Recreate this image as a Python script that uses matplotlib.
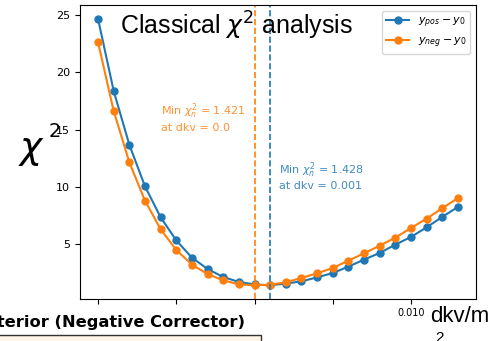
import numpy as np
import matplotlib
matplotlib.use("Agg")
import matplotlib.pyplot as plt
from matplotlib.patches import Rectangle

# Scan of the velocity correction dkv
dkv = [-0.010, -0.009, -0.008, -0.007, -0.006, -0.005, -0.004, -0.003,
       -0.002, -0.001, 0.000, 0.001, 0.002, 0.003, 0.004, 0.005,
       0.006, 0.007, 0.008, 0.009, 0.010, 0.011, 0.012, 0.013]

# Reduced chi-square for each corrector
chi2_pos = [24.7, 18.4, 13.7, 10.07, 7.36, 5.35, 3.84, 2.85,
            2.15, 1.72, 1.50, 1.428, 1.58, 1.77, 2.12, 2.50,
            3.06, 3.67, 4.25, 4.98, 5.65, 6.49, 7.40, 8.27]
chi2_neg = [22.65, 16.65, 12.17, 8.82, 6.32, 4.51, 3.23, 2.41,
            1.86, 1.51, 1.421, 1.48, 1.69, 2.07, 2.47, 2.94,
            3.58, 4.22, 4.89, 5.59, 6.43, 7.25, 8.15, 9.05]

min_pos_x, min_pos_val = 0.001, 1.428
min_neg_x, min_neg_val = 0.0, 1.421

xticks = [-0.010, -0.005, 0.000, 0.005, 0.010]
xticklabels = ["", "", "", "", "0.010"]

W, H = 504, 341
fig = plt.figure(figsize=(W / 100, H / 100), dpi=100)
ax = fig.add_axes([80 / W, 1 - 298.7 / H, (476 - 80) / W, (298.7 - 5.3) / H])

ax.plot(dkv, chi2_pos, "-o", color="C0", ms=5, lw=1.5, label=r"$y_{pos} - y_0$")
ax.plot(dkv, chi2_neg, "-o", color="C1", ms=5, lw=1.5, label=r"$y_{neg} - y_0$")

ax.axvline(min_pos_x, color="C0", ls="--", lw=1.2)
ax.axvline(min_neg_x, color="C1", ls="--", lw=1.2)

ax.text(-0.00596, 16.1,
        r"Min $\chi^2_n$ = %.3f" % min_neg_val + "\nat dkv = %s" % min_neg_x,
        color="C1", alpha=0.85, fontsize=8, va="center", ha="left")
ax.text(0.00154, 11.0,
        r"Min $\chi^2_n$ = %.3f" % min_pos_val + "\nat dkv = %s" % min_pos_x,
        color="C0", alpha=0.85, fontsize=8, va="center", ha="left")

ax.set_xticks(xticks)
ax.set_xticklabels(xticklabels, fontsize=7)
ax.set_yticks([5, 10, 15, 20, 25])
ax.tick_params(axis="y", labelsize=8)

ax.legend(loc="upper right", fontsize=8)

ax.text(0.10, 0.93, r"Classical $\chi^2$ analysis", transform=ax.transAxes,
        fontsize=18, family="Liberation Sans", va="center", ha="left")

# Large axis labels placed in figure pixel coordinates
fig.text(32 / W, 1 - 150 / H, r"$\chi$", fontsize=27, ha="center", va="center")
fig.text(54.5 / W, 1 - 131.5 / H, "2", fontsize=14, ha="center", va="center")
fig.text(430 / W, 1 - 322 / H, "dkv/m", fontsize=16, family="Liberation Sans",
         ha="left", va="baseline")
fig.text(440 / W, 1 - 338 / H, "2", fontsize=11, family="Liberation Sans",
         ha="center", va="center")

# Heading and panel of the next subplot
fig.text(245 / W, 1 - 323 / H, "Posterior (Negative Corrector)", fontsize=11.7,
         fontweight="bold", ha="right", va="center")
fig.patches.append(Rectangle((-5 / W, -0.05), 266 / W, (341 - 335) / H + 0.05,
                             transform=fig.transFigure, facecolor="#fdf3e7",
                             edgecolor="#333333", lw=1.0))

fig.savefig("out.png", dpi=100)
